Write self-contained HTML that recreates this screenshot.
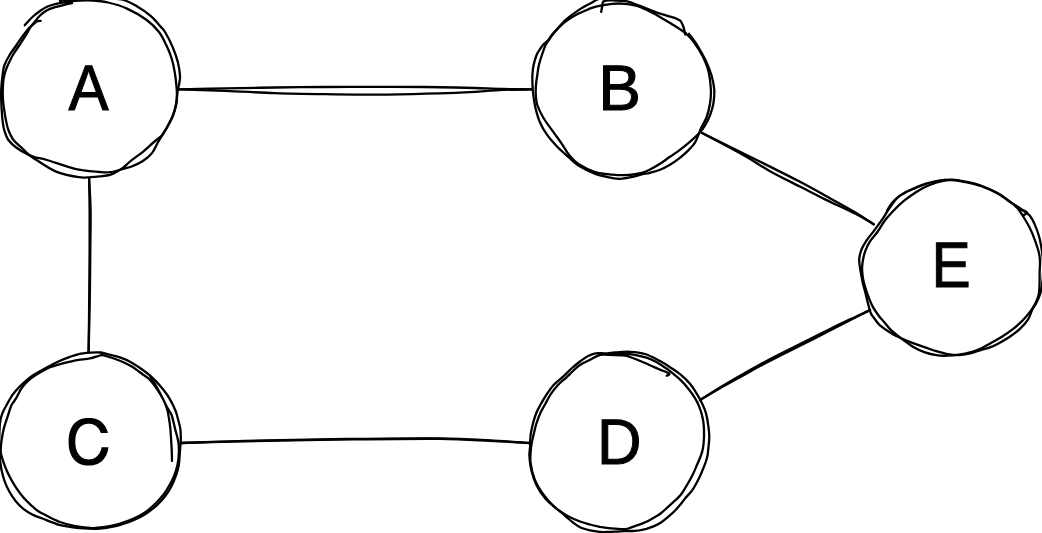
<!DOCTYPE html>
<html><head><meta charset="utf-8">
<style>
html,body{margin:0;padding:0;background:#fff;width:1042px;height:533px;overflow:hidden}
svg{display:block}
text{text-rendering:geometricPrecision;font-family:"Liberation Sans",sans-serif;font-size:66px;fill:#000;stroke:#000;stroke-width:1px}
</style></head><body>
<svg width="1042" height="533" viewBox="0 0 1042 533">
<g fill="none" stroke="#000" stroke-width="2.3" stroke-linecap="round" stroke-linejoin="round">
<path d="M24.8 25.3 C25.5 24.5 27.6 22.0 29.0 20.5 C30.4 19.0 31.2 18.1 33.0 16.5 C34.8 14.9 37.7 12.6 40.0 11.0 C42.3 9.4 44.5 7.9 47.0 6.8 C49.5 5.7 52.0 5.0 55.0 4.2 C58.0 3.4 61.0 2.8 65.0 2.2 C69.0 1.6 74.2 0.9 79.0 0.6 C83.8 0.3 88.8 0.2 93.6 0.5 C98.4 0.8 102.4 1.2 108.0 2.5 C113.6 3.8 120.6 5.7 127.0 8.6 C133.4 11.5 141.1 15.8 146.4 19.7 C151.7 23.6 155.7 27.7 159.0 32.0 C162.3 36.3 164.4 41.1 166.5 45.6 C168.6 50.1 170.4 54.5 171.8 59.0 C173.2 63.5 174.1 68.3 174.8 72.6 C175.6 76.9 176.0 81.0 176.3 84.7 C176.7 88.4 177.0 91.7 176.9 95.0 C176.8 98.3 176.7 101.1 176.0 104.6 C175.3 108.1 174.2 112.1 172.7 115.9 C171.2 119.7 168.9 123.8 167.0 127.2 C165.1 130.6 162.3 134.7 161.4 136.2 C160.2 137.2 157.1 139.4 154.0 142.0 C150.9 144.6 146.5 148.9 142.9 151.8 C139.3 154.8 135.6 157.1 132.3 159.7 C129.0 162.3 125.6 165.6 123.1 167.6 C120.5 169.6 119.2 170.3 117.0 171.5 C114.8 172.7 112.8 174.0 110.0 174.8 C107.2 175.6 103.3 175.9 100.0 176.3 C96.7 176.7 93.5 177.0 90.0 177.2 C86.5 177.3 84.5 178.1 78.8 177.2 C73.1 176.3 63.2 174.6 56.0 171.6 C48.8 168.6 40.3 162.3 35.6 159.4 C30.9 156.5 30.3 155.9 28.0 154.0 C25.7 152.1 24.4 150.3 22.0 148.0 C19.6 145.7 15.8 143.0 13.5 140.0 C11.2 137.0 9.7 133.3 8.4 130.0 C7.1 126.7 6.6 123.3 5.9 120.0 C5.2 116.7 4.7 113.3 4.2 110.0 C3.7 106.7 3.2 103.3 3.0 100.0 C2.8 96.7 2.7 93.3 2.8 90.0 C2.9 86.7 3.0 83.0 3.4 80.0 C3.8 77.0 4.5 74.5 5.2 72.0 C6.0 69.5 6.6 67.8 7.9 65.0 C9.2 62.2 11.0 58.3 12.9 55.0 C14.8 51.7 17.3 48.3 19.5 45.0 C21.7 41.7 24.2 37.8 26.0 35.0 C27.8 32.2 28.6 30.2 30.0 28.0 C31.4 25.8 32.8 24.1 34.5 22.0 C36.2 19.9 37.9 17.5 40.0 15.5 C42.1 13.5 44.5 11.6 47.0 10.2 C49.5 8.8 52.0 8.1 55.0 7.2 C58.0 6.3 62.2 5.3 65.0 4.6 C67.8 3.9 70.8 3.4 72.0 3.2"/>
<path d="M60.0 1.0 C63.3 0.6 73.3 -0.8 80.0 -1.2 C86.7 -1.6 93.1 -1.6 100.0 -1.5 C106.9 -1.4 115.3 -1.8 121.4 -0.5 C127.5 0.8 131.8 3.4 136.8 6.2 C141.8 9.0 147.3 13.0 151.2 16.3 C155.1 19.6 157.7 23.4 160.0 26.0 C162.3 28.6 162.9 28.5 165.0 32.0 C167.1 35.5 170.5 42.0 172.6 47.0 C174.7 52.0 176.6 57.2 177.8 62.0 C179.0 66.8 179.8 72.1 180.0 75.6 C180.2 79.1 179.7 80.3 179.3 83.0 C178.9 85.7 178.0 88.4 177.5 92.0 C177.0 95.6 177.0 100.6 176.2 104.6 C175.4 108.6 174.4 112.1 172.9 115.9 C171.4 119.7 169.1 123.8 167.2 127.2 C165.3 130.6 163.2 133.6 161.6 136.2 C160.0 138.8 159.2 140.2 157.6 143.0 C156.0 145.8 154.4 150.1 152.0 153.1 C149.6 156.1 146.2 158.8 142.9 161.0 C139.6 163.2 135.6 164.9 132.3 166.2 C129.0 167.5 126.8 167.9 123.1 168.9 C119.4 169.9 113.8 171.7 110.0 172.2 C106.2 172.7 105.8 172.6 100.0 172.0 C94.2 171.4 83.8 170.8 75.0 168.8 C66.2 166.8 53.5 161.9 47.0 160.0 C40.5 158.1 39.2 158.4 36.0 157.5 C32.8 156.6 31.2 156.1 28.0 154.5 C24.8 152.9 20.2 150.4 16.9 148.0 C13.6 145.6 10.5 143.0 8.4 140.0 C6.3 137.0 5.2 133.3 4.2 130.0 C3.2 126.7 2.9 123.3 2.5 120.0 C2.1 116.7 1.9 113.3 1.7 110.0 C1.5 106.7 1.3 103.3 1.2 100.0 C1.1 96.7 1.1 93.3 1.2 90.0 C1.3 86.7 1.7 83.0 2.0 80.0 C2.3 77.0 2.6 74.5 3.0 72.0 C3.4 69.5 3.4 67.8 4.5 65.0 C5.6 62.2 7.6 58.3 9.6 55.0 C11.6 51.7 14.2 48.3 16.5 45.0 C18.8 41.7 21.4 37.8 23.5 35.0 C25.6 32.2 27.4 29.8 29.0 28.0 C30.6 26.2 31.7 25.6 33.0 24.5 C34.3 23.4 35.5 22.1 36.8 21.5 C38.1 20.9 40.0 20.9 40.6 20.8"/>
<path d="M686.0 33.4 C687.3 34.9 691.3 38.5 694.0 42.2 C696.7 45.9 700.0 50.9 702.4 55.7 C704.8 60.5 707.0 65.2 708.4 70.9 C709.8 76.6 710.6 84.6 710.9 90.0 C711.2 95.4 710.7 99.0 710.0 103.5 C709.3 108.0 708.1 113.1 706.7 117.0 C705.3 120.9 703.0 124.2 701.6 127.1 C700.2 130.0 699.6 131.9 698.5 134.5 C697.4 137.1 696.6 140.2 694.8 142.9 C693.0 145.6 690.3 148.4 687.8 150.9 C685.3 153.4 682.9 155.5 679.9 157.8 C676.9 160.1 673.2 162.8 669.9 164.8 C666.6 166.8 663.3 168.5 660.0 169.8 C656.7 171.1 653.0 172.0 650.0 172.8 C647.0 173.6 644.8 173.7 641.7 174.4 C638.6 175.1 635.1 176.4 631.6 177.1 C628.1 177.8 623.8 178.7 620.6 178.8 C617.4 179.0 616.4 178.8 612.2 178.0 C608.0 177.2 600.9 175.9 595.3 173.8 C589.7 171.7 582.6 168.1 578.4 165.5 C574.2 162.9 573.4 161.3 570.0 158.3 C566.6 155.3 561.9 151.5 558.0 147.5 C554.1 143.5 549.8 138.7 546.8 134.4 C543.8 130.2 541.7 126.4 539.8 122.0 C537.9 117.6 536.6 112.5 535.5 108.0 C534.4 103.5 533.8 98.8 533.3 95.0 C532.8 91.2 532.6 88.3 532.5 85.0 C532.4 81.7 532.2 78.3 532.4 75.0 C532.6 71.7 532.9 68.3 533.6 65.0 C534.3 61.7 535.6 57.5 536.6 55.0 C537.6 52.5 538.4 51.7 539.5 50.0 C540.6 48.3 541.5 46.7 543.0 45.0 C544.5 43.3 546.9 41.6 548.3 40.0 C549.7 38.4 550.3 37.0 551.5 35.5 C552.7 34.0 553.2 33.5 555.5 31.0 C557.8 28.5 561.2 23.8 565.1 20.3 C569.0 16.8 574.1 13.1 578.6 10.1 C583.1 7.1 588.9 4.3 592.1 2.5 C595.3 0.7 596.0 0.0 598.0 -0.8 C600.0 -1.6 603.0 -2.2 604.0 -2.5"/>
<path d="M689.0 33.8 C690.4 35.8 694.6 41.1 697.4 45.6 C700.2 50.1 703.4 55.7 705.8 60.8 C708.2 65.9 710.3 71.1 711.7 76.0 C713.1 80.9 714.0 85.4 714.3 90.0 C714.6 94.6 714.1 99.3 713.4 103.5 C712.7 107.7 711.4 111.6 710.0 115.3 C708.6 119.0 706.7 122.5 705.0 125.4 C703.3 128.3 702.3 129.8 699.8 132.5 C697.3 135.2 693.1 139.0 689.8 141.9 C686.5 144.8 683.2 147.4 679.9 149.9 C676.6 152.4 673.2 154.5 669.9 156.8 C666.6 159.1 663.3 161.7 660.0 163.8 C656.7 165.9 653.0 168.0 650.0 169.5 C647.0 171.0 645.2 172.0 641.7 172.9 C638.2 173.8 634.0 174.7 629.1 175.0 C624.2 175.3 617.8 175.1 612.2 174.6 C606.6 174.1 600.9 173.9 595.3 172.1 C589.7 170.3 582.7 166.8 578.4 164.0 C574.1 161.2 572.1 158.7 569.3 155.3 C566.5 151.9 564.6 147.9 561.8 143.8 C559.0 139.7 555.4 135.0 552.4 130.7 C549.4 126.4 546.0 122.3 543.5 118.0 C541.0 113.7 538.6 108.8 537.3 105.0 C536.0 101.2 536.0 97.8 535.8 95.0 C535.5 92.2 535.7 90.2 535.8 88.0 C535.9 85.8 536.0 84.2 536.3 82.0 C536.5 79.8 536.9 77.8 537.3 75.0 C537.7 72.2 538.1 68.3 538.9 65.0 C539.7 61.7 540.8 58.3 541.9 55.0 C543.0 51.7 544.4 47.5 545.6 45.0 C546.8 42.5 547.9 41.7 549.0 40.0 C550.1 38.3 551.0 36.6 552.2 35.0 C553.4 33.4 553.9 32.7 556.0 30.5 C558.1 28.3 561.9 24.4 565.1 21.9 C568.3 19.3 572.0 17.0 575.3 15.2 C578.6 13.3 582.1 12.1 585.0 10.8 C587.9 9.6 589.8 8.6 592.7 7.7 C595.6 6.8 599.1 6.1 602.3 5.4 C605.5 4.8 608.1 4.1 611.9 3.8 C615.7 3.5 620.3 3.3 625.0 3.8 C629.7 4.3 634.7 4.9 640.0 6.8 C645.3 8.7 651.3 12.1 656.9 15.2 C662.5 18.3 668.9 22.3 673.8 25.3 C678.6 28.3 684.0 32.0 686.0 33.4"/>
<path d="M601.2 11.9 C601.4 10.9 601.9 7.7 602.2 6.0 C602.5 4.3 602.4 2.9 603.0 2.0 C603.6 1.1 604.0 0.8 606.0 0.5 C608.0 0.2 611.7 0.4 615.0 0.5 C618.3 0.6 621.8 0.3 626.0 1.2 C630.2 2.1 634.9 4.0 640.0 5.9 C645.1 7.8 651.3 10.7 656.9 12.7 C662.5 14.7 669.9 16.3 673.8 17.7 C677.7 19.1 679.4 20.3 680.5 20.8 C681.0 21.8 682.5 24.2 683.3 26.5 C684.1 28.8 684.9 33.2 685.2 34.5"/>
<path d="M101.0 352.3 C102.2 352.6 104.8 353.5 108.0 354.3 C111.2 355.1 116.1 356.0 120.0 357.3 C123.9 358.6 127.6 360.3 131.3 362.4 C135.1 364.5 139.3 367.4 142.5 369.7 C145.7 371.9 147.6 373.4 150.4 375.9 C153.2 378.4 156.6 381.7 159.4 384.9 C162.2 388.1 165.2 391.9 167.3 395.0 C169.4 398.1 170.9 401.0 172.2 403.5 C173.5 406.0 174.4 408.1 175.2 410.0 C176.0 411.9 176.1 412.0 176.9 415.0 C177.7 418.0 179.5 424.2 180.2 428.1 C180.8 432.0 180.9 434.7 180.8 438.6 C180.8 442.5 180.2 447.3 179.9 451.7 C179.6 456.1 179.4 461.2 178.8 465.0 C178.2 468.8 177.5 471.1 176.3 474.5 C175.1 477.9 173.6 481.9 171.8 485.4 C170.1 488.9 168.2 492.1 165.8 495.3 C163.4 498.5 160.9 501.5 157.5 504.6 C154.1 507.7 149.5 511.4 145.5 514.0 C141.5 516.6 138.5 518.2 133.5 520.2 C128.5 522.2 121.6 524.7 115.6 526.1 C109.6 527.5 103.6 528.5 97.7 528.9 C91.8 529.2 84.6 528.6 80.0 528.2 C75.4 527.9 73.4 527.3 69.9 526.8 C66.5 526.2 63.9 526.3 59.3 524.9 C54.7 523.5 46.8 520.2 42.4 518.5 C38.0 516.8 35.8 516.3 32.7 514.7 C29.6 513.1 26.5 511.4 23.7 509.1 C20.9 506.9 18.2 504.2 15.8 501.2 C13.4 498.2 10.9 494.4 9.0 491.0 C7.1 487.6 5.7 484.3 4.5 480.9 C3.3 477.5 2.4 474.0 1.7 470.8 C1.0 467.6 0.7 464.9 0.3 461.8 C-0.1 458.7 -0.3 455.6 -0.5 452.0 C-0.7 448.4 -0.9 444.8 -0.8 440.0 C-0.7 435.2 -0.5 427.3 0.0 423.0 C0.5 418.7 1.1 416.9 2.1 414.0 C3.2 411.1 4.5 408.7 6.3 405.5 C8.1 402.3 10.4 397.8 12.7 394.6 C15.0 391.4 17.1 389.2 20.0 386.3 C22.9 383.4 26.7 379.8 30.0 377.3 C33.3 374.8 36.7 373.1 40.0 371.2 C43.3 369.3 46.7 367.4 50.0 365.7 C53.3 363.9 56.7 362.2 60.0 360.7 C63.3 359.2 66.9 357.9 70.0 356.8 C73.1 355.7 75.5 354.8 78.8 354.1 C82.1 353.4 86.5 353.0 90.0 352.7 C93.5 352.4 97.7 352.3 100.0 352.5 C102.3 352.7 103.3 353.8 104.0 354.0"/>
<path d="M150.0 376.0 C150.8 377.3 153.3 381.2 155.0 384.0 C156.7 386.8 157.9 389.0 160.0 393.0 C162.1 397.0 165.6 404.3 167.5 408.0 C169.4 411.7 170.4 411.6 171.6 415.0 C172.8 418.4 173.8 423.7 174.9 428.1 C176.0 432.5 177.5 437.3 178.2 441.2 C178.9 445.1 179.0 447.8 178.9 451.7 C178.8 455.6 178.3 460.9 177.5 464.8 C176.7 468.7 175.6 472.0 174.3 475.3 C173.0 478.6 171.4 481.8 169.7 484.9 C168.0 488.0 166.3 491.0 164.0 494.0 C161.7 497.0 159.2 499.9 156.0 503.0 C152.8 506.1 148.8 509.9 145.0 512.5 C141.2 515.1 137.9 516.8 133.0 518.8 C128.1 520.8 121.4 523.3 115.5 524.8 C109.6 526.3 102.0 527.2 97.7 527.7 C93.5 528.2 93.9 528.3 90.0 528.0 C86.1 527.7 79.3 526.9 74.2 525.9 C69.1 524.9 64.3 523.6 59.3 521.7 C54.3 519.8 47.5 516.0 44.0 514.3 C40.5 512.6 40.4 512.7 38.3 511.3 C36.2 509.9 33.9 507.9 31.5 505.7 C29.1 503.4 26.1 500.6 23.7 497.8 C21.3 495.0 19.0 491.8 16.9 488.8 C14.8 485.8 13.0 482.8 11.3 479.8 C9.6 476.8 8.1 473.8 6.8 470.8 C5.5 467.8 4.3 464.4 3.4 461.8 C2.5 459.2 1.8 457.0 1.3 455.0 C0.9 453.0 0.7 452.3 0.7 450.0 C0.7 447.7 1.0 444.5 1.5 441.0 C2.0 437.5 2.7 433.0 3.7 429.0 C4.7 425.0 6.2 420.9 7.5 417.0 C8.8 413.1 9.9 408.6 11.3 405.5 C12.7 402.4 14.1 401.7 15.9 398.7 C17.7 395.7 19.6 390.8 22.0 387.5 C24.4 384.2 27.0 381.5 30.0 379.0 C33.0 376.5 36.7 374.4 40.0 372.5 C43.3 370.6 46.7 368.7 50.0 367.3 C53.3 365.9 56.7 365.1 60.0 364.2 C63.3 363.2 66.9 362.3 70.0 361.6 C73.1 360.9 75.5 360.3 78.8 359.8 C82.1 359.3 86.5 359.1 90.0 358.4 C93.5 357.7 97.7 356.0 100.0 355.5 C102.3 355.0 100.7 354.6 104.0 355.5 C107.3 356.4 115.5 358.9 120.0 360.7 C124.5 362.5 127.6 364.1 131.3 366.3 C135.1 368.6 139.5 372.0 142.5 374.2 C145.5 376.4 146.9 376.8 149.3 379.3 C151.8 381.8 154.8 385.8 157.2 389.4 C159.6 393.0 162.2 397.3 163.9 400.7 C165.6 404.1 166.6 407.6 167.3 410.0 C168.1 412.4 167.9 412.0 168.4 415.0 C168.9 418.0 169.8 422.6 170.3 428.1 C170.8 433.6 171.3 442.3 171.6 447.8 C171.9 453.3 171.9 458.7 172.0 460.9"/>
<path d="M598.0 353.6 C599.6 353.6 604.8 353.5 607.6 353.3 C610.4 353.1 611.3 352.8 615.0 352.5 C618.7 352.2 625.0 351.6 630.0 351.8 C635.0 352.1 640.0 352.5 645.0 354.0 C650.0 355.5 655.8 358.8 660.0 361.0 C664.2 363.2 666.5 364.8 670.0 367.2 C673.5 369.6 677.8 372.3 681.2 375.1 C684.6 377.9 687.6 380.9 690.2 384.1 C692.8 387.3 694.9 390.8 697.0 394.2 C699.1 397.6 701.1 401.2 702.6 404.4 C704.1 407.6 705.1 410.0 706.0 413.4 C706.9 416.8 707.7 421.1 708.2 425.0 C708.8 428.9 709.3 433.2 709.3 437.0 C709.3 440.8 708.8 444.7 708.4 448.0 C708.0 451.3 707.9 453.9 707.2 457.0 C706.5 460.1 705.4 463.1 704.0 466.7 C702.6 470.3 700.9 474.5 698.9 478.4 C696.9 482.3 694.6 486.7 692.3 490.1 C690.0 493.5 686.8 496.2 684.9 498.6 C683.0 501.0 682.3 502.3 680.6 504.3 C678.9 506.3 677.0 508.6 674.9 510.7 C672.8 512.8 670.2 515.1 667.8 517.1 C665.4 519.1 663.0 521.2 660.6 522.8 C658.2 524.3 655.9 525.4 653.5 526.4 C651.1 527.4 648.8 528.2 646.4 528.9 C644.0 529.5 641.7 529.9 639.3 530.3 C636.9 530.6 634.5 530.9 632.1 531.0 C629.7 531.1 627.9 531.1 625.0 531.2 C622.1 531.3 618.0 531.6 615.0 531.7 C612.0 531.8 609.2 532.0 606.7 532.0 C604.2 532.0 602.8 532.2 600.0 531.9 C597.2 531.6 593.3 531.1 590.0 530.3 C586.7 529.5 582.8 528.5 580.0 527.2 C577.2 525.9 575.2 524.1 573.0 522.5 C570.8 520.9 568.9 519.1 567.0 517.5 C565.1 515.9 563.8 514.4 561.9 512.8 C560.0 511.2 558.7 510.4 555.9 508.0 C553.1 505.6 548.5 502.1 545.3 498.4 C542.1 494.7 539.1 490.3 536.8 485.7 C534.5 481.1 532.7 475.8 531.5 470.8 C530.3 465.9 529.6 460.1 529.4 456.0 C529.2 451.9 529.9 449.9 530.1 446.4 C530.3 442.9 530.1 438.9 530.6 435.1 C531.1 431.3 532.0 427.5 532.9 423.8 C533.8 420.1 535.1 416.1 536.3 413.0 C537.5 409.9 538.6 408.0 540.3 405.0 C542.0 402.0 544.1 398.3 546.3 395.0 C548.5 391.7 550.8 388.1 553.6 385.0 C556.4 381.9 560.1 379.4 563.1 376.7 C566.1 373.9 568.7 371.0 571.5 368.5 C574.3 366.0 577.2 363.6 580.0 361.5 C582.8 359.4 585.5 357.4 588.1 356.0 C590.7 354.6 592.4 353.8 595.6 353.3 C598.9 352.9 602.7 353.6 607.6 353.3 C612.5 353.1 622.1 352.1 625.0 351.8"/>
<path d="M600.0 354.5 C602.5 354.4 610.0 353.9 615.0 353.8 C620.0 353.8 624.0 353.3 630.0 354.2 C636.0 355.1 645.4 357.2 651.0 359.3 C656.6 361.4 660.2 364.5 663.4 366.5 C666.6 368.5 667.0 368.8 670.0 371.2 C673.0 373.6 678.0 377.6 681.2 380.7 C684.4 383.8 686.9 386.9 689.1 389.7 C691.4 392.5 693.0 394.8 694.7 397.6 C696.4 400.4 698.0 403.6 699.2 406.6 C700.4 409.6 701.4 412.5 702.1 415.6 C702.9 418.7 703.4 421.4 703.7 425.0 C704.0 428.6 704.1 433.2 704.0 437.0 C703.9 440.8 703.5 445.0 703.0 448.0 C702.5 451.0 702.0 452.4 701.1 455.0 C700.2 457.6 699.0 460.4 697.5 463.8 C696.0 467.2 694.3 471.6 692.3 475.5 C690.3 479.4 687.7 483.9 685.7 487.2 C683.8 490.4 682.4 492.8 680.6 495.0 C678.8 497.2 677.0 498.7 674.9 500.7 C672.8 502.7 670.2 505.0 667.8 507.1 C665.4 509.2 663.0 511.7 660.6 513.5 C658.2 515.3 655.9 516.4 653.5 517.8 C651.1 519.2 648.8 520.6 646.4 521.7 C644.0 522.8 641.7 523.7 639.3 524.6 C636.9 525.5 634.5 526.3 632.1 527.1 C629.7 527.9 627.9 529.0 625.0 529.2 C622.1 529.5 618.0 528.8 615.0 528.6 C612.0 528.4 609.2 528.1 606.7 527.8 C604.2 527.5 602.8 527.3 600.0 526.8 C597.2 526.2 593.3 525.4 590.0 524.5 C586.7 523.6 583.3 522.7 580.0 521.5 C576.7 520.3 573.0 518.8 570.0 517.3 C567.0 515.8 564.6 514.3 561.9 512.5 C559.2 510.7 556.9 509.6 553.8 506.5 C550.7 503.4 546.4 498.7 543.2 494.2 C540.0 489.7 536.8 484.6 534.7 479.3 C532.6 474.0 531.1 467.9 530.5 462.4 C529.9 456.9 530.7 450.9 531.2 446.4 C531.7 441.8 532.6 438.9 533.5 435.1 C534.4 431.3 535.1 427.5 536.3 423.8 C537.5 420.1 539.0 416.1 540.5 412.8 C542.0 409.5 543.7 407.0 545.3 404.0 C546.9 401.0 548.2 398.1 550.2 395.0 C552.2 391.9 554.9 388.4 557.5 385.5 C560.1 382.6 563.5 380.1 566.0 377.8 C568.5 375.5 570.2 373.6 572.5 371.5 C574.8 369.4 576.9 367.0 580.0 365.0 C583.1 363.0 587.8 361.0 591.1 359.3 C594.4 357.6 597.0 355.6 600.0 354.8 C603.0 354.1 604.9 354.7 609.1 354.8 C613.3 354.9 621.5 355.1 625.0 355.5 C628.5 355.9 626.7 355.8 630.0 357.0 C633.3 358.2 640.2 361.0 645.0 363.0 C649.8 365.0 654.5 367.2 658.5 369.0 C662.5 370.8 667.6 372.4 669.0 373.5 C670.4 374.6 667.2 375.4 666.8 375.8"/>
<path d="M887.2 210.4 C887.9 209.3 889.6 205.9 891.4 203.7 C893.2 201.4 895.7 198.9 898.2 196.9 C900.7 194.9 903.8 193.4 906.6 191.9 C909.4 190.4 911.7 189.1 915.1 187.7 C918.5 186.3 922.7 184.6 926.9 183.4 C931.1 182.2 935.9 181.0 940.1 180.4 C944.3 179.8 948.0 179.4 952.0 179.6 C956.0 179.8 959.0 180.3 963.8 181.3 C968.6 182.3 975.1 183.5 980.7 185.5 C986.3 187.5 992.6 190.3 997.6 193.1 C1002.6 195.9 1007.1 199.7 1011.0 202.4 C1014.9 205.1 1018.1 207.0 1021.2 209.2 C1024.3 211.4 1027.5 213.1 1029.7 215.6 C1032.0 218.1 1033.2 221.0 1034.7 224.4 C1036.2 227.8 1037.9 232.3 1039.0 236.2 C1040.1 240.1 1040.8 243.7 1041.5 248.0 C1042.2 252.3 1042.8 257.5 1043.0 262.0 C1043.2 266.5 1043.2 271.2 1043.0 275.0 C1042.8 278.8 1042.5 281.8 1042.0 285.0 C1041.5 288.2 1041.0 291.5 1040.0 294.5 C1039.0 297.5 1037.6 300.5 1036.3 303.0 C1035.0 305.5 1033.7 306.7 1032.3 309.5 C1030.9 312.3 1029.9 316.6 1027.8 319.8 C1025.7 323.0 1022.9 326.0 1019.9 328.8 C1016.9 331.6 1013.4 334.3 1009.8 336.7 C1006.2 339.1 1001.8 341.6 998.5 343.4 C995.2 345.2 992.9 346.2 990.0 347.3 C987.1 348.4 984.7 348.8 981.4 349.8 C978.1 350.8 973.9 352.6 970.1 353.5 C966.3 354.4 962.5 355.1 958.8 355.2 C955.0 355.3 951.4 354.8 947.6 354.1 C943.9 353.4 940.1 352.3 936.3 351.2 C932.5 350.1 928.8 348.6 925.0 347.3 C921.2 346.0 917.5 344.8 913.8 343.4 C910.0 342.0 906.2 340.6 902.5 338.9 C898.8 337.2 895.0 335.5 891.3 333.2 C887.5 330.9 882.9 327.8 880.0 325.3 C877.1 322.8 875.5 320.0 874.0 318.0 C872.5 316.0 871.8 315.8 870.8 313.2 C869.8 310.6 868.8 306.4 867.8 302.6 C866.8 298.8 865.6 293.9 864.8 290.6 C864.0 287.3 863.3 285.4 862.8 283.0 C862.2 280.6 862.0 278.6 861.5 276.0 C861.0 273.4 860.3 270.2 859.9 267.3 C859.5 264.4 859.0 261.3 859.3 258.3 C859.6 255.3 860.4 252.3 861.6 249.3 C862.8 246.3 864.5 243.5 866.6 240.3 C868.8 237.1 872.3 233.1 874.5 230.1 C876.7 227.1 878.3 224.8 880.0 222.5 C881.7 220.2 883.2 217.9 884.5 216.0 C885.8 214.1 886.3 212.8 887.5 211.0 C888.7 209.2 890.0 207.4 891.5 205.3 C893.0 203.2 894.6 200.6 896.8 198.5 C899.0 196.4 901.8 194.3 904.8 192.6 C907.8 190.9 911.5 189.9 914.8 188.5 C918.1 187.1 921.2 185.5 924.7 184.3 C928.2 183.1 932.6 181.9 936.0 181.2 C939.4 180.5 943.5 180.2 945.0 180.0"/>
<path d="M1014.5 205.5 C1015.2 206.2 1017.6 208.2 1019.0 210.0 C1020.4 211.8 1021.1 213.1 1022.9 216.0 C1024.7 218.9 1027.7 223.8 1029.7 227.7 C1031.7 231.6 1033.2 235.4 1034.7 239.6 C1036.2 243.8 1038.1 249.4 1039.0 253.1 C1039.9 256.8 1039.9 259.1 1040.0 262.0 C1040.1 264.9 1039.8 266.8 1039.7 270.6 C1039.6 274.4 1039.7 280.9 1039.5 285.0 C1039.3 289.1 1039.4 291.6 1038.6 295.0 C1037.8 298.4 1035.9 302.3 1034.5 305.1 C1033.1 307.9 1032.0 309.3 1030.0 311.9 C1028.0 314.5 1025.0 318.1 1022.2 320.9 C1019.4 323.7 1016.6 326.2 1013.2 328.8 C1009.8 331.4 1005.7 334.3 1001.9 336.7 C998.1 339.1 994.0 341.3 990.6 343.2 C987.2 345.1 984.8 346.7 981.4 348.2 C978.0 349.7 973.9 351.3 970.1 352.4 C966.3 353.5 962.5 354.1 958.8 354.6 C955.0 355.2 951.4 355.6 947.6 355.7 C943.9 355.8 940.1 355.8 936.3 355.2 C932.5 354.6 928.8 353.7 925.0 352.4 C921.2 351.1 917.5 349.5 913.8 347.3 C910.0 345.1 906.2 342.2 902.5 339.4 C898.8 336.6 894.3 333.2 891.3 330.4 C888.3 327.6 886.5 324.9 884.5 322.5 C882.5 320.1 881.0 318.8 879.1 316.2 C877.2 313.6 874.9 310.6 873.0 307.1 C871.1 303.6 869.3 299.1 867.8 295.1 C866.3 291.1 864.9 286.4 864.0 283.0 C863.1 279.6 862.8 277.6 862.5 275.0 C862.2 272.4 862.0 270.1 862.1 267.3 C862.2 264.5 862.7 261.1 863.3 258.3 C863.9 255.5 864.4 253.2 865.5 250.4 C866.6 247.6 868.0 244.5 870.0 241.4 C872.0 238.3 874.9 235.5 877.4 232.0 C879.9 228.5 882.0 224.3 884.9 220.5 C887.8 216.7 891.6 212.6 894.9 209.2 C898.2 205.8 901.5 202.9 904.8 200.2 C908.1 197.5 911.8 195.0 914.8 193.0 C917.8 191.0 920.0 189.6 922.7 188.2 C925.4 186.8 928.1 185.6 931.0 184.5 C933.9 183.4 936.6 182.2 940.1 181.5 C943.6 180.8 948.0 180.1 952.0 180.2 C956.0 180.2 959.0 180.8 963.8 181.8 C968.6 182.8 975.1 184.0 980.7 186.0 C986.3 188.0 992.6 190.8 997.6 193.6 C1002.6 196.4 1007.1 200.0 1011.0 202.6 C1014.9 205.2 1018.5 207.5 1021.2 209.2 C1023.9 210.8 1026.7 211.5 1027.1 212.5 C1027.5 213.5 1024.3 214.7 1023.8 215.1"/>
<path d="M178.8 89.4 C186.5 89.2 209.0 88.7 225.0 88.4 C241.0 88.1 258.3 87.7 275.0 87.5 C291.7 87.3 308.3 87.1 325.0 87.0 C341.7 86.9 358.3 86.9 375.0 86.9 C391.7 86.9 411.7 86.9 425.0 87.0 C438.3 87.1 446.7 87.3 455.0 87.5 C463.3 87.7 467.0 87.8 475.0 88.0 C483.0 88.2 493.5 88.8 503.0 89.0 C512.5 89.2 527.0 89.3 531.8 89.4"/>
<path d="M178.8 89.4 C186.5 89.6 209.0 90.2 225.0 90.8 C241.0 91.4 258.3 92.6 275.0 93.2 C291.7 93.8 308.3 94.0 325.0 94.2 C341.7 94.4 358.3 94.7 375.0 94.6 C391.7 94.5 411.7 94.0 425.0 93.7 C438.3 93.4 446.7 93.1 455.0 92.8 C463.3 92.5 467.0 92.3 475.0 91.8 C483.0 91.3 493.5 90.3 503.0 89.9 C512.5 89.5 527.0 89.5 531.8 89.4"/>
<path d="M89.1 178.4 C89.3 183.7 90.4 198.1 90.6 210.0 C90.8 221.9 90.4 236.7 90.3 250.0 C90.2 263.3 90.1 278.3 89.9 290.0 C89.7 301.7 89.5 309.6 89.3 320.0 C89.1 330.4 88.7 346.8 88.6 352.2"/>
<path d="M89.1 178.4 C89.2 183.7 89.5 198.1 89.6 210.0 C89.7 221.9 89.6 236.7 89.6 250.0 C89.5 263.3 89.4 278.3 89.3 290.0 C89.2 301.7 89.1 309.6 89.0 320.0 C88.9 330.4 88.7 346.8 88.6 352.2"/>
<path d="M702.0 133.0 C709.2 136.6 733.7 148.7 745.0 154.3 C756.3 159.9 760.8 162.0 770.0 166.6 C779.2 171.2 790.8 177.0 800.0 181.8 C809.2 186.6 815.8 190.3 825.0 195.4 C834.2 200.5 846.9 207.4 855.0 212.2 C863.1 217.0 870.6 222.3 873.7 224.3"/>
<path d="M702.0 133.0 C709.2 136.8 733.7 149.6 745.0 156.0 C756.3 162.4 760.8 166.1 770.0 171.2 C779.2 176.3 790.8 181.9 800.0 186.6 C809.2 191.3 815.8 194.9 825.0 199.4 C834.2 203.9 846.9 209.4 855.0 213.6 C863.1 217.8 870.6 222.5 873.7 224.3"/>
<path d="M700.0 400.1 C703.3 398.0 713.3 391.6 720.0 387.5 C726.7 383.4 733.3 379.5 740.0 375.7 C746.7 371.9 753.3 368.1 760.0 364.5 C766.7 360.9 773.3 357.5 780.0 354.1 C786.7 350.7 791.7 348.3 800.0 344.1 C808.3 339.9 821.7 333.1 830.0 329.0 C838.3 324.9 843.3 322.5 850.0 319.4 C856.7 316.2 866.7 311.7 870.0 310.1"/>
<path d="M700.0 400.1 C703.3 398.1 713.3 392.1 720.0 388.3 C726.7 384.5 733.3 380.9 740.0 377.2 C746.7 373.5 753.3 369.7 760.0 366.1 C766.7 362.5 773.3 359.1 780.0 355.7 C786.7 352.3 791.7 349.9 800.0 345.7 C808.3 341.5 821.7 334.8 830.0 330.5 C838.3 326.2 843.3 323.6 850.0 320.2 C856.7 316.8 866.7 311.8 870.0 310.1"/>
<path d="M180.8 443.0 C189.0 442.7 213.5 441.9 230.0 441.4 C246.5 440.9 259.2 440.6 280.0 440.2 C300.8 439.8 328.3 439.2 355.0 438.9 C381.7 438.6 417.5 438.1 440.0 438.4 C462.5 438.6 475.2 439.6 490.0 440.4 C504.8 441.2 522.5 442.6 529.0 443.0"/>
<path d="M180.8 443.0 C189.0 442.8 213.5 442.0 230.0 441.6 C246.5 441.2 259.2 441.0 280.0 440.6 C300.8 440.2 328.3 439.6 355.0 439.3 C381.7 439.0 417.5 438.6 440.0 438.8 C462.5 439.1 475.2 440.1 490.0 440.8 C504.8 441.5 522.5 442.6 529.0 443.0"/>
</g>
<text transform="translate(88.60 109.80) scale(0.936 1)" text-anchor="middle" style="font-size:64.3px">A</text>
<text transform="translate(619.60 110.00) scale(0.995 1)" text-anchor="middle" style="font-size:64.3px">B</text>
<text transform="translate(951.10 286.80) scale(0.913 1)" text-anchor="middle" style="font-size:64.3px">E</text>
<text transform="translate(619.30 463.80) scale(0.959 1)" text-anchor="middle" style="font-size:64.3px">D</text>
<path d="M107.94 433.10 L107.55 431.66 L107.10 430.29 L106.57 428.98 L105.98 427.74 L105.33 426.56 L104.61 425.45 L103.83 424.41 L102.99 423.44 L102.09 422.54 L101.13 421.72 L100.11 420.97 L99.04 420.30 L97.92 419.71 L96.74 419.20 L95.50 418.78 L94.21 418.43 L92.84 418.18 L91.39 418.00 L89.79 417.91 L87.77 417.91 L86.14 417.99 L84.68 418.16 L83.31 418.41 L82.01 418.74 L80.77 419.16 L79.58 419.66 L78.45 420.25 L77.38 420.91 L76.36 421.65 L75.39 422.46 L74.49 423.36 L73.64 424.32 L72.85 425.36 L72.13 426.46 L71.47 427.63 L70.88 428.87 L70.35 430.17 L69.89 431.54 L69.50 432.97 L69.17 434.47 L68.92 436.05 L68.74 437.72 L68.64 439.52 L68.60 441.71 L68.64 443.89 L68.74 445.69 L68.92 447.36 L69.18 448.94 L69.50 450.44 L69.89 451.87 L70.35 453.24 L70.88 454.54 L71.47 455.78 L72.13 456.95 L72.86 458.05 L73.65 459.08 L74.49 460.05 L75.40 460.94 L76.36 461.76 L77.38 462.50 L78.46 463.16 L79.59 463.74 L80.77 464.24 L82.01 464.66 L83.32 464.99 L84.69 465.24 L86.15 465.41 L87.78 465.49 L89.80 465.49 L91.40 465.40 L92.85 465.22 L94.22 464.96 L95.51 464.62 L96.75 464.19 L97.93 463.69 L99.05 463.10 L100.12 462.43 L101.13 461.68 L102.09 460.86 L102.99 459.96 L103.83 458.99 L104.61 457.95 L105.33 456.83 L105.99 455.66 L106.58 454.41 L107.10 453.10 L107.55 451.73 L107.94 450.29 L108.25 448.78 L108.50 447.20 L101.61 447.20 L101.38 448.25 L101.10 449.27 L100.78 450.24 L100.42 451.18 L100.01 452.07 L99.57 452.92 L99.08 453.73 L98.56 454.48 L98.00 455.19 L97.40 455.85 L96.77 456.46 L96.11 457.01 L95.41 457.51 L94.69 457.95 L93.93 458.34 L93.15 458.67 L92.33 458.93 L91.49 459.14 L90.61 459.29 L89.67 459.37 L88.58 459.40 L87.55 459.36 L86.62 459.27 L85.75 459.11 L84.91 458.89 L84.10 458.61 L83.32 458.27 L82.57 457.87 L81.85 457.42 L81.16 456.91 L80.51 456.35 L79.88 455.73 L79.29 455.06 L78.74 454.34 L78.22 453.58 L77.75 452.76 L77.31 451.90 L76.91 451.00 L76.56 450.06 L76.24 449.08 L75.97 448.06 L75.75 447.00 L75.57 445.89 L75.44 444.75 L75.35 443.55 L75.30 442.25 L75.31 440.75 L75.36 439.47 L75.45 438.28 L75.59 437.14 L75.78 436.04 L76.01 434.99 L76.29 433.97 L76.61 433.00 L76.97 432.06 L77.37 431.16 L77.82 430.31 L78.30 429.51 L78.82 428.75 L79.38 428.03 L79.97 427.37 L80.60 426.76 L81.26 426.21 L81.96 425.71 L82.68 425.26 L83.44 424.87 L84.22 424.55 L85.03 424.28 L85.88 424.07 L86.76 423.92 L87.69 423.83 L88.78 423.80 L89.81 423.83 L90.74 423.93 L91.62 424.09 L92.46 424.30 L93.27 424.58 L94.05 424.91 L94.80 425.31 L95.52 425.76 L96.21 426.27 L96.87 426.83 L97.49 427.44 L98.08 428.11 L98.64 428.83 L99.16 429.59 L99.63 430.40 L100.07 431.26 L100.47 432.16 L100.83 433.10 Z" fill="#000"/>
</svg>
</body></html>
